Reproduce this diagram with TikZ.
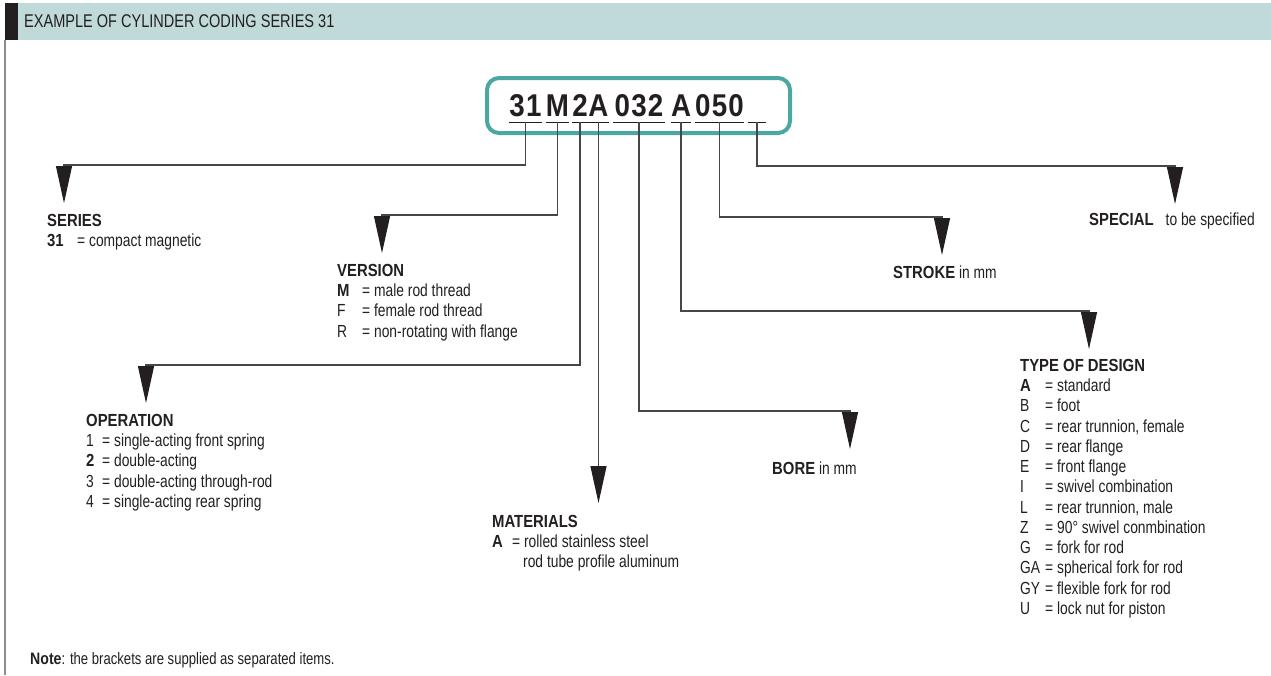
\documentclass[tikz,border=0pt]{standalone}
\usepackage{fontspec}
\setmainfont{Liberation Sans}[FakeStretch=0.79,BoldFeatures={FakeStretch=0.85}]
\newfontfamily\codefont{Liberation Sans}[FakeStretch=0.88,LetterSpace=4]
\usepackage{tikz}
\usetikzlibrary{arrows.meta,positioning}
\definecolor{band}{HTML}{C0D9D9}
\definecolor{codeteal}{HTML}{4AA7A2}
\definecolor{ink}{HTML}{231F20}
\newcommand{\keyw}[2]{\makebox[#1][l]{#2}}

\begin{document}
\begin{tikzpicture}[x=1pt,y=-1pt,
  grp/.style={anchor=south,inner sep=0pt,text depth=5pt,text=ink,
    font=\codefont\bfseries\fontsize{31.5}{31.5}\selectfont},
  uline/.style={draw=ink,line width=1pt},
  lead/.style={draw=black!72,line width=1.1pt,
    -{Triangle[length=37pt,width=16pt,color=ink,fill=ink]}},
  txt/.style={anchor=north west,inner sep=0pt,align=left,text=ink,
    font=\fontsize{17.5}{20.25}\selectfont},
  one/.style={anchor=base west,inner sep=0pt,text=ink,
    font=\fontsize{17.5}{20.25}\selectfont}]
\useasboundingbox (0,0) rectangle (1271,675);
% title band
\fill[band] (5,3) rectangle (1271,40);
\fill[ink] (5,3) rectangle (18,40);
\draw[black!45,line width=1.2pt] (5,40) -- (5,675);
\node[anchor=west,inner sep=0pt,text=ink,font=\fontsize{18.4}{18.4}\selectfont]
  (title) at (24,21) {EXAMPLE OF CYLINDER CODING SERIES 31};

% the code
\node[draw=codeteal,line width=4pt,rounded corners=12pt,
  minimum width=303,minimum height=55] (code) at (638.5,105.5) {};
\node[grp,minimum width=33] (g31) at (525.5,122) {31};
\node[grp,minimum width=21] (gM) at (557.5,122) {M};
\node[grp,minimum width=14] (g2) at (580,122) {2};
\node[grp,minimum width=17] (gA) at (598.5,122) {A};
\node[grp,minimum width=52] (g032) at (639,122) {032};
\node[grp,minimum width=16] (gD) at (681,122) {A};
\node[grp,minimum width=45] (g050) at (719.5,122) {050};
\node[grp,minimum width=18] (gS) at (757,122) {};
\foreach \g in {g31,gM,g2,gA,g032,gD,g050,gS}
  \draw[uline] (\g.south west) -- (\g.south east);

% bends
\coordinate (kSeries) at (64,165);
\coordinate (kVersion) at (382,215);
\coordinate (kOper) at (146,365);
\coordinate (kBore) at (850,411);
\coordinate (kDesign) at (1089,311);
\coordinate (kStroke) at (942,217);
\coordinate (kSpecial) at (1175,166);

\draw[lead] (g31.south) |- (kSeries) -- ++(0,38);
\draw[lead] (gM.south) |- (kVersion) -- ++(0,38);
\draw[lead] (g2.south) |- (kOper) -- ++(0,38);
\draw[lead] (gA.south) -- ++(0,381);
\draw[lead] (g032.south) |- (kBore) -- ++(0,38);
\draw[lead] (gD.south) |- (kDesign) -- ++(0,38);
\draw[lead] (g050.south) |- (kStroke) -- ++(0,38);
\draw[lead] (gS.south) |- (kSpecial) -- ++(0,38);

% legends
\node[txt] (series) at (47,214)
  {\textbf{SERIES}\\\keyw{30pt}{\textbf{31}}= compact magnetic};
\node[txt] (version) at (337,264)
  {\textbf{VERSION}\\\keyw{25pt}{\textbf{M}}= male rod thread\\
   \keyw{25pt}{F}= female rod thread\\\keyw{25pt}{R}= non-rotating with flange};
\node[txt] (oper) at (86,414)
  {\textbf{OPERATION}\\\keyw{16pt}{1}= single-acting front spring\\
   \keyw{16pt}{\textbf{2}}= double-acting\\\keyw{16pt}{3}= double-acting through-rod\\
   \keyw{16pt}{4}= single-acting rear spring};
\node[txt] (mat) at (492,515)
  {\textbf{MATERIALS}\\\keyw{20pt}{\textbf{A}}= rolled stainless steel\\
   \hspace*{31pt}rod tube profile aluminum};
\node[one] (bore) at (772,474) {\textbf{BORE} in mm};
\node[txt] (design) at (1020,359)
  {\textbf{TYPE OF DESIGN}\\\keyw{25pt}{\textbf{A}}= standard\\
   \keyw{25pt}{B}= foot\\\keyw{25pt}{C}= rear trunnion, female\\
   \keyw{25pt}{D}= rear flange\\\keyw{25pt}{E}= front flange\\
   \keyw{25pt}{I}= swivel combination\\\keyw{25pt}{L}= rear trunnion, male\\
   \keyw{25pt}{Z}= 90° swivel conmbination\\\keyw{25pt}{G}= fork for rod\\
   \keyw{25pt}{GA}= spherical fork for rod\\\keyw{25pt}{GY}= flexible fork for rod\\
   \keyw{25pt}{U}= lock nut for piston};
\node[one] (stroke) at (893,278) {\textbf{STROKE} in mm};
\node[one] (special) at (1089,225) {\textbf{SPECIAL}\hspace{12pt}to be specified};

\node[one,font=\fontsize{16.6}{18}\selectfont] (note) at (30,664)
  {\textbf{Note}: the brackets are supplied as separated items.};
\end{tikzpicture}
\end{document}
